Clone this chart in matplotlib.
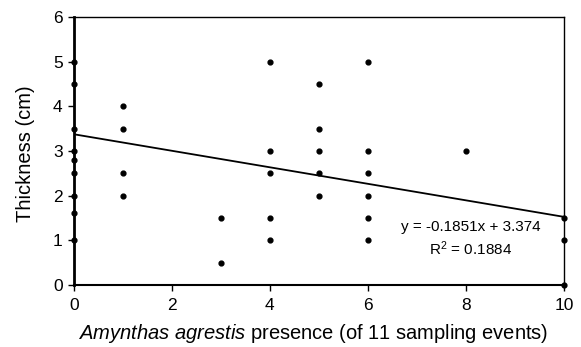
import numpy as np
import matplotlib.pyplot as plt

plt.rcParams['font.family'] = ['Liberation Sans', 'DejaVu Sans']
plt.rcParams['mathtext.fontset'] = 'custom'
plt.rcParams['mathtext.rm'] = 'Liberation Sans'
plt.rcParams['mathtext.it'] = 'Liberation Sans:italic'

# Presence (of 11 sampling events) and thickness (cm)
presence = [0, 0, 0, 0, 0, 0, 0, 0, 0,
            1, 1, 1, 1,
            3, 3,
            4, 4, 4, 4, 4,
            5, 5, 5, 5, 5,
            6, 6, 6, 6, 6, 6,
            8,
            10, 10, 10]
thickness = [5, 4.5, 3.5, 3, 2.8, 2.5, 2, 1.6, 1,
             4, 3.5, 2.5, 2,
             1.5, 0.5,
             5, 3, 2.5, 1.5, 1,
             4.5, 3.5, 3, 2.5, 2,
             5, 3, 2.5, 2, 1.5, 1,
             3,
             1.5, 1, 0]

slope = -0.1851
intercept = 3.374
r2 = 0.1884

fig = plt.figure(figsize=(5.81, 3.47), dpi=100)
ax = fig.add_axes([0.127, 0.179, 0.844, 0.772])

ax.scatter(presence, thickness, s=12, color='black', zorder=3, clip_on=False)

xs = np.array([0, 10])
ax.plot(xs, slope * xs + intercept, color='black', lw=1.3)

ax.text(8.1, 1.30, f'y = {slope}x + {intercept}', ha='center', va='center', fontsize=11)
ax.text(8.1, 0.81, f'R$^2$ = {r2}', ha='center', va='center', fontsize=11)

ax.set_xlim(0, 10)
ax.set_ylim(0, 6)
ax.set_xticks([0, 2, 4, 6, 8, 10])
ax.set_yticks(range(7))
ax.tick_params(axis='both', labelsize=12.5, length=4.5, width=1)
ax.tick_params(axis='x', pad=5)
for s in ax.spines.values():
    s.set_linewidth(1)
ax.spines['left'].set_linewidth(2)
ax.spines['bottom'].set_linewidth(1.5)

ax.set_ylabel('Thickness (cm)', fontsize=14.5)
ax.yaxis.set_label_coords(-0.08, 0.49)
ax.set_xlabel('$\\it{Amynthas\\ agrestis}$ presence (of 11 sampling events)', fontsize=14.5)
ax.xaxis.set_label_coords(0.488, -0.14)

plt.savefig('out.png', dpi=100)
